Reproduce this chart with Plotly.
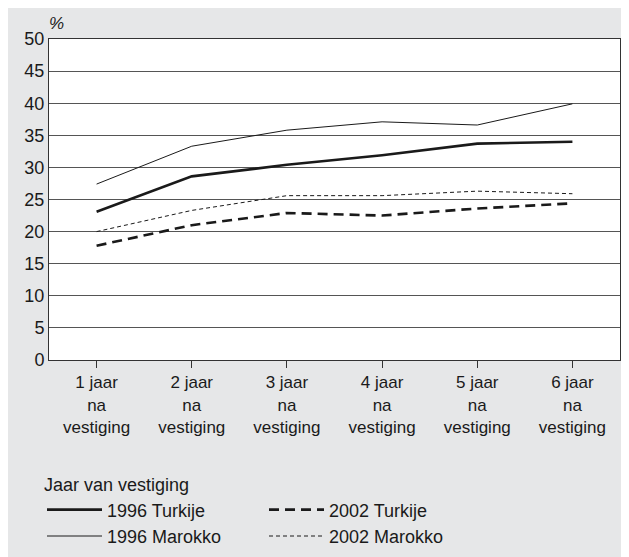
import plotly.graph_objects as go

categories = ["1 jaar<br>na<br>vestiging", "2 jaar<br>na<br>vestiging", "3 jaar<br>na<br>vestiging",
              "4 jaar<br>na<br>vestiging", "5 jaar<br>na<br>vestiging", "6 jaar<br>na<br>vestiging"]
turkije_1996 = [23.1, 28.6, 30.4, 31.9, 33.7, 34.0]
turkije_2002 = [17.8, 21.0, 22.9, 22.5, 23.6, 24.4]
marokko_1996 = [27.4, 33.3, 35.8, 37.1, 36.6, 39.9]
marokko_2002 = [20.0, 23.3, 25.6, 25.6, 26.3, 25.9]
y_ticks = [0, 5, 10, 15, 20, 25, 30, 35, 40, 45, 50]

OFF = 8  # page body margin
W, H = 629, 557
ML, MR, MT, MB = 41, 17, 31, 205
PW, PH = W - ML - MR, H - MT - MB
FONT = "Liberation Sans, Arial, sans-serif"
INK = "#1a1a1a"
PANEL = "#e6e7e8"

def px_x(sx):
    return (sx - OFF - ML) / PW

def px_y(sy):
    return (H - MB - (sy - OFF)) / PH

x = list(range(len(categories)))
fig = go.Figure()
fig.add_trace(go.Scatter(x=x, y=turkije_1996, name="1996 Turkije", mode="lines",
                         line=dict(color=INK, width=2.6)))
fig.add_trace(go.Scatter(x=x, y=turkije_2002, name="2002 Turkije", mode="lines",
                         line=dict(color=INK, width=2.6, dash="10px,6px")))
fig.add_trace(go.Scatter(x=x, y=marokko_1996, name="1996 Marokko", mode="lines",
                         line=dict(color=INK, width=1)))
fig.add_trace(go.Scatter(x=x, y=marokko_2002, name="2002 Marokko", mode="lines",
                         line=dict(color=INK, width=1, dash="4px,3px")))

fig.add_annotation(text="<i>%</i>", xref="paper", yref="paper",
                   x=px_x(47), y=px_y(35), xanchor="left", yanchor="bottom",
                   showarrow=False, font=dict(size=17, color=INK, family=FONT))

fig.update_layout(
    width=W, height=H,
    margin=dict(l=ML, r=MR, t=MT, b=MB, autoexpand=False),
    paper_bgcolor=PANEL, plot_bgcolor="white",
    font=dict(family=FONT, size=18, color=INK),
    showlegend=True,
    legend=dict(
        orientation="h", x=px_x(42), y=px_y(468), xanchor="left", yanchor="top",
        bgcolor="rgba(0,0,0,0)", traceorder="normal",
        entrywidth=152, entrywidthmode="pixels", itemwidth=55,
        title=dict(text="Jaar van vestiging", side="top", font=dict(size=18)),
        font=dict(size=18, color=INK),
    ),
    xaxis=dict(
        tickmode="array", tickvals=x, ticktext=categories,
        range=[-0.5, len(categories) - 0.5],
        showgrid=False, showline=True, linecolor="#333", linewidth=1, mirror=True,
        ticks="outside", ticklen=7, tickcolor="#333", zeroline=False,
        tickfont=dict(size=17),
    ),
    yaxis=dict(
        tickmode="array", tickvals=y_ticks, range=[0, 50],
        showgrid=True, gridcolor="#555", gridwidth=1,
        showline=True, linecolor="#333", linewidth=1, mirror=True,
        ticks="", zeroline=False, tickfont=dict(size=18),
    ),
)

fig.write_html("out.html")
